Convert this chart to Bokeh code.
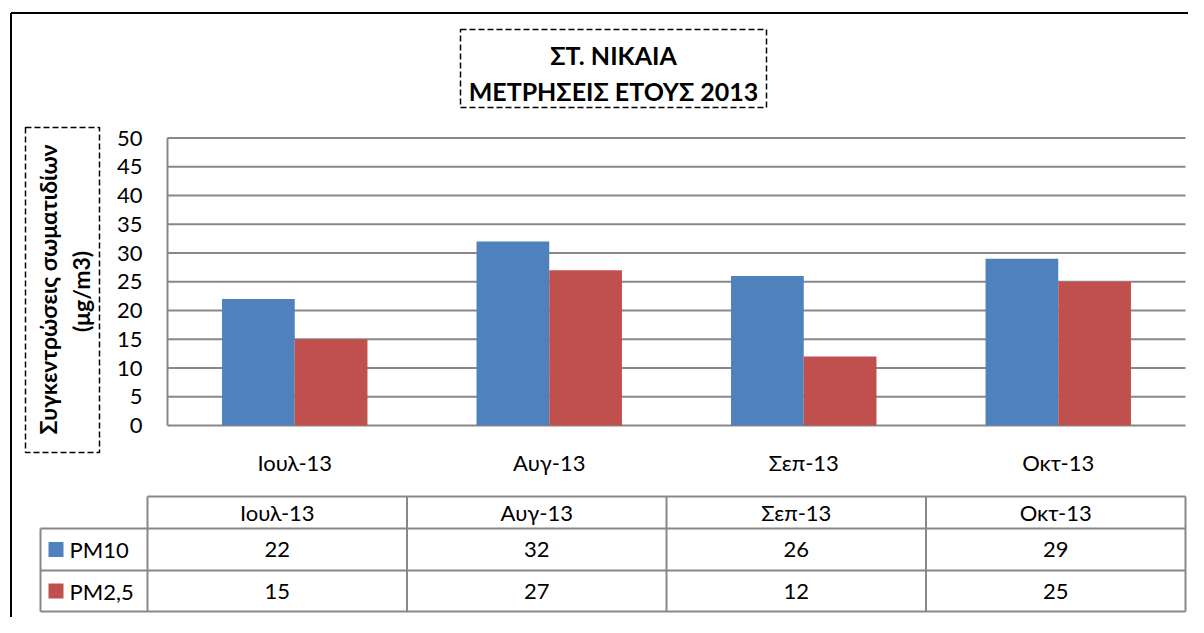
import numpy as np
from bokeh.plotting import figure
from bokeh.models import Range1d, ColumnDataSource
from bokeh.core.properties import value
from bokeh.transform import dodge
from bokeh.embed import file_html
from bokeh.resources import INLINE

# ---------------- data ----------------
categories = ["Ιουλ-13", "Αυγ-13", "Σεπ-13", "Οκτ-13"]
series_names = ["PM10", "PM2,5"]
pm10 = [22, 32, 26, 29]
pm25 = [15, 27, 12, 25]
y_ticks = [0, 5, 10, 15, 20, 25, 30, 35, 40, 45, 50]
title_lines = ["ΣΤ. ΝΙΚΑΙΑ", "ΜΕΤΡΗΣΕΙΣ ΕΤΟΥΣ 2013"]
ytitle_lines = ["Συγκεντρώσεις σωματιδίων", "(μg/m3)"]

# ---------------- layout (reference pixels) ----------------
W, H = 1188, 617
OFF = 0
PL, PR, PT, PB = 167, 1185, 137.5, 425      # plot area
ncat = len(categories)
ymax = y_ticks[-1]
xppu = (PR - PL) / ncat
yppu = (PB - PT) / ymax

FONT = value("Lato")
BLUE = "#4F81BD"
RED = "#C0504D"
GRID = "#888888"
FS = "22px"

p = figure(width=W, height=H,
           x_range=Range1d(-(PL - OFF) / xppu, ncat + (OFF + W - PR) / xppu),
           y_range=Range1d(-(OFF + H - PB) / yppu, ymax + (PT - OFF) / yppu),
           output_backend="svg", toolbar_location=None,
           x_axis_location=None, y_axis_location=None, min_border=0)
p.grid.visible = False
p.outline_line_color = None
p.background_fill_color = "white"
p.border_fill_color = "white"
# pixel coordinate system for decorations (y = -pixel_y)
p.extra_x_ranges = {"px": Range1d(OFF, OFF + W)}
p.extra_y_ranges = {"px": Range1d(-(OFF + H), -OFF)}


def X(px):
    return (px - PL) / xppu


def Yv(py):
    return (PB - py) / yppu


# ---------------- plot area ----------------
p.segment(x0=[0] * len(y_ticks), x1=[ncat] * len(y_ticks), y0=y_ticks, y1=y_ticks,
          line_color=GRID, line_width=2)
p.segment(x0=[0], x1=[0], y0=[0], y1=[ymax], line_color=GRID, line_width=2)

src = ColumnDataSource(dict(xc=np.arange(ncat) + 0.5, pm10=pm10, pm25=pm25))
bw = 1 / 3.5
p.vbar(x=dodge("xc", -bw / 2), top="pm10", bottom=0, width=bw, source=src,
       fill_color=BLUE, line_color=None)
p.vbar(x=dodge("xc", bw / 2), top="pm25", bottom=0, width=bw, source=src,
       fill_color=RED, line_color=None)

# y tick labels
p.text(x=[X(142)] * len(y_ticks), y=y_ticks, text=[str(t) for t in y_ticks],
       text_font=FONT, text_font_size=FS, text_align="right",
       text_baseline="middle", text_color="black")
# category labels
p.text(x=list(np.arange(ncat) + 0.5), y=[Yv(462)] * ncat, text=categories,
       text_font=FONT, text_font_size=FS, text_align="center",
       text_baseline="middle", text_color="black")

# ---------------- decorations (px) ----------------
kw = dict(x_range_name="px", y_range_name="px")
# outer frame (top and left edges visible)
p.segment(x0=[10.5, 10.5], x1=[OFF + W, 10.5], y0=[-12.5, -12.5], y1=[-12.5, -(OFF + H)],
          line_color="black", line_width=2, **kw)

# title box
p.quad(left=[460], right=[766], top=[-29], bottom=[-107], fill_color=None,
       line_color="black", line_width=1.5, line_dash="6 3", **kw)
p.text(x=[613, 613], y=[-54, -90], text=title_lines, text_font=FONT,
       text_font_size="25px", text_font_style="bold", text_align="center",
       text_baseline="middle", text_color="black", **kw)

# y title box
p.quad(left=[25], right=[99], top=[-127], bottom=[-452], fill_color=None,
       line_color="black", line_width=1.5, line_dash="6 3", **kw)
p.text(x=[47, 80], y=[-289, -291], text=ytitle_lines, text_font=FONT,
       text_font_size="23px", text_font_style="bold", text_align="center",
       text_baseline="middle", angle=np.pi / 2, text_color="black", **kw)

# ---------------- data table ----------------
TL, TR = 147, 1185
LL = 40
R0, R1, R2, R3 = 496, 528, 570, 611
cw = (TR - TL) / ncat
col_edges = [TL + cw * i for i in range(ncat + 1)]
col_centers = [TL + cw * (i + 0.5) for i in range(ncat)]

hx0 = [TL, LL, LL]
hx1 = [TR, TR, TR]
hy = [R0, R1, R2]
p.segment(x0=hx0 + [LL], x1=hx1 + [TR], y0=[-v for v in hy] + [-R3], y1=[-v for v in hy] + [-R3],
          line_color=GRID, line_width=2, **kw)
vx = col_edges + [LL]
vy0 = [R0] * len(col_edges) + [R1]
p.segment(x0=vx, x1=vx, y0=[-v for v in vy0], y1=[-R3] * len(vx),
          line_color=GRID, line_width=2, **kw)

ry = [(R0 + R1) / 2, (R1 + R2) / 2, (R2 + R3) / 2]
p.text(x=col_centers, y=[-ry[0]] * ncat, text=categories, text_font=FONT,
       text_font_size=FS, text_align="center", text_baseline="middle",
       text_color="black", **kw)
p.text(x=col_centers, y=[-ry[1]] * ncat, text=[str(v) for v in pm10], text_font=FONT,
       text_font_size=FS, text_align="center", text_baseline="middle",
       text_color="black", **kw)
p.text(x=col_centers, y=[-ry[2]] * ncat, text=[str(v) for v in pm25], text_font=FONT,
       text_font_size=FS, text_align="center", text_baseline="middle",
       text_color="black", **kw)

# legend keys in table
p.quad(left=[48, 48], right=[63, 63], top=[-(ry[1] - 7.5), -(ry[2] - 7.5)],
       bottom=[-(ry[1] + 7.5), -(ry[2] + 7.5)], fill_color=[BLUE, RED],
       line_color=None, **kw)
p.text(x=[69, 69], y=[-ry[1], -ry[2]], text=series_names, text_font=FONT,
       text_font_size=FS, text_align="left", text_baseline="middle",
       text_color="black", **kw)

open("out.html", "w").write(file_html(p, INLINE))
